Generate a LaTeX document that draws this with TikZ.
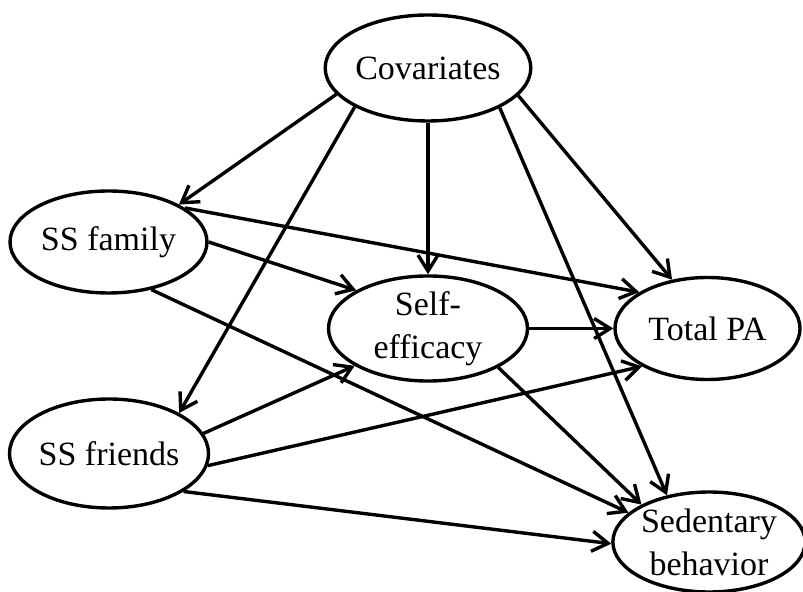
\documentclass[tikz,border=0pt]{standalone}
\usepackage{fontspec}
\setmainfont{Liberation Serif}
\usetikzlibrary{shapes.geometric,arrows.meta}

\tikzset{
  var/.style={ellipse, draw, line width=1.7pt, inner sep=0pt, align=center,
              font=\fontsize{17}{21.5}\selectfont},
  path/.style={line width=1.7pt, -{Straight Barb[length=8pt,width=10pt,line width=1.7pt]}},
}

\begin{document}
\begin{tikzpicture}[x=0.5pt, y=-0.5pt]
\useasboundingbox (0,0) rectangle (803,592);

% latent variables
\node[var, minimum width=98.5pt, minimum height=53pt] (cov) at (428,68) {Covariates};
\node[var, minimum width=98.5pt, minimum height=51pt] (fam) at (108.5,242) {SS family};
\node[var, minimum width=99.5pt, minimum height=52.5pt] (self) at (428,328.5) {Self-\\efficacy};
\node[var, minimum width=92.5pt, minimum height=51pt] (tot) at (707.5,328.5) {Total PA};
\node[var, minimum width=99pt, minimum height=54.5pt] (fri) at (109,453.5) {SS friends};
\node[var, minimum width=93pt, minimum height=50pt] (sed) at (709,542) {Sedentary\\behavior};

% paths from the covariates
\draw[path] (cov.196) -- (fam.28);
\draw[path] (cov.208) -- (fri.30);
\draw[path] (cov.south) -- (self.north);
\draw[path] (cov.331) -- (sed.132);
\draw[path] (cov.343.6) -- (tot.126);

% paths from social support (family)
\draw[path] (fam.24) -- (tot.152.6);
\draw[path] (fam.east) -- (self.152.7);
\draw[path] (fam.312) -- (sed.160);

% paths from self-efficacy
\draw[path] (self.east) -- (tot.west);
\draw[path] (self.331) -- (sed.151.4);

% paths from social support (friends)
\draw[path] (fri.12.4) -- (self.207.4);
\draw[path] (fri.353.3) -- (tot.210.5);
\draw[path] (fri.333.4) -- (sed.181.2);
\end{tikzpicture}
\end{document}
